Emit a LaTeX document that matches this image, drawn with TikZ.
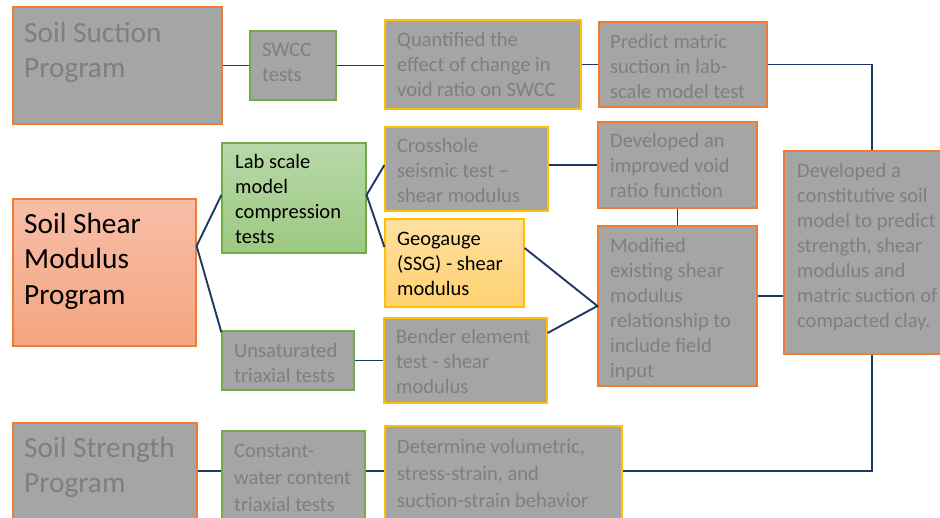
\documentclass[tikz,border=0pt]{standalone}
\usepackage{fontspec}
\setmainfont{Carlito}
\usetikzlibrary{fit}
\definecolor{boxgray}{HTML}{A5A5A5}
\definecolor{txtgray}{HTML}{7F7F7F}
\definecolor{bdorange}{HTML}{ED7D31}
\definecolor{bdyellow}{HTML}{FFC000}
\definecolor{bdgreen}{HTML}{70AD47}
\definecolor{navy}{HTML}{1F3864}
\definecolor{grtop}{HTML}{B7D8A8}
\definecolor{grbot}{HTML}{9DC982}
\definecolor{ortop}{HTML}{F7BEA8}
\definecolor{orbot}{HTML}{F4A580}
\definecolor{yetop}{HTML}{FFE0A0}
\definecolor{yebot}{HTML}{FFD170}
\tikzset{
  boxbase/.style={inner sep=0pt, line width=1.2pt},
  graybox/.style={boxbase, fill=boxgray},
  ob/.style={draw=bdorange},
  yb/.style={draw=bdyellow},
  gb/.style={draw=bdgreen},
  smalltxt/.style={inner sep=0pt, anchor=north west, align=left, text=txtgray,
    font=\fontsize{20.5}{25}\selectfont},
  lowtxt/.style={inner sep=0pt, anchor=north west, align=left, text=txtgray,
    font=\fontsize{20.5}{27.3}\selectfont},
  bigtxt/.style={inner sep=0pt, anchor=north west, align=left, text=txtgray,
    font=\fontsize{29.3}{35.5}\selectfont},
  conn/.style={draw=navy, line width=1.9pt}
}
\begin{document}
\begin{tikzpicture}[x=1pt, y=-1pt]
\useasboundingbox (0,0) rectangle (940,518);
\clip (0,0) rectangle (940,518);
% boxes
\node[graybox, ob, fit={(13,7) (222,124)}] (suction) {};
\node[graybox, gb, fit={(250,31) (336,100)}] (swcc) {};
\node[graybox, yb, fit={(385,20) (581,109)}] (quant) {};
\node[graybox, ob, fit={(599,22) (767,107)}] (predict) {};
\node[boxbase, gb, top color=grtop, bottom color=grbot, fit={(222,143) (366,253)}] (lab) {};
\node[graybox, yb, fit={(385,127) (548,211)}] (cross) {};
\node[boxbase, yb, top color=yetop, bottom color=yebot, fit={(385,219) (524,307)}] (geo) {};
\node[graybox, gb, fit={(222,331) (354,390)}] (unsat) {};
\node[graybox, yb, fit={(384,318) (547,403)}] (bender) {};
\node[graybox, ob, fit={(598,122) (757,208)}] (devel) {};
\node[graybox, ob, fit={(598,226) (757,386)}] (modif) {};
\node[graybox, ob, fit={(784,151) (960,354)}] (const) {};
\node[boxbase, ob, top color=ortop, bottom color=orbot, fit={(13,199) (196,346)}] (shear) {};
\node[graybox, ob, fit={(13,423) (197,540)}] (strength) {};
\node[graybox, gb, fit={(222,431) (365,540)}] (constant) {};
\node[graybox, yb, fit={(385,426) (622,540)}] (determine) {};
% texts
\node[bigtxt] (t-suction) at (24,{42-24.85}) {\strut Soil Suction\\Program};
\node[smalltxt] (t-swcc) at (262,{56-17.5}) {\strut SWCC\\tests};
\node[smalltxt] (t-quant) at (397,{46-17.5}) {\strut Quantified the\\effect of change in\\void ratio on SWCC};
\node[smalltxt] (t-predict) at (610,{48-17.5}) {\strut Predict matric\\suction in lab-\\scale model test};
\node[smalltxt, text=black] (t-lab) at (235,{168-17.5}) {\strut Lab scale\\model\\compression\\tests};
\node[smalltxt] (t-cross) at (397,{152-17.5}) {\strut Crosshole\\seismic test --\\shear modulus};
\node[smalltxt, text=black] (t-geo) at (397,{245-17.5}) {\strut Geogauge\\(SSG) - shear\\modulus};
\node[smalltxt] (t-unsat) at (234,{357-17.5}) {\strut Unsaturated\\triaxial tests};
\node[smalltxt] (t-bender) at (396,{343-17.5}) {\strut Bender element\\test - shear\\modulus};
\node[smalltxt] (t-devel) at (610,{147-17.5}) {\strut Developed an\\improved void\\ratio function};
\node[smalltxt] (t-modif) at (610,{252-17.5}) {\strut Modified\\existing shear\\modulus\\relationship to\\include field\\input};
\node[smalltxt] (t-const) at (797,{177-17.5}) {\strut Developed a\\constitutive soil\\model to predict\\strength, shear\\modulus and\\matric suction of\\compacted clay.};
\node[bigtxt, text=black] (t-shear) at (24,{233-24.85}) {\strut Soil Shear\\Modulus\\Program};
\node[bigtxt] (t-strength) at (24,{457-24.85}) {\strut Soil Strength\\Program};
\node[lowtxt] (t-constant) at (234,{457-19.1}) {\strut Constant-\\water content\\triaxial tests};
\node[lowtxt] (t-determine) at (397,{453-19.1}) {\strut Determine volumetric,\\stress-strain, and\\suction-strain behavior};
% connectors
\coordinate (ybot) at (0,471);
\draw[conn] (suction.east) -- (swcc.west);
\draw[conn] (swcc.east) -- (quant.west |- swcc.east);
\draw[conn] (quant.east) -- (predict.west);
\draw[conn] (predict.east) -| (const.north);
\draw[conn] (const.south) |- (determine.east |- ybot);
\draw[conn] (strength.east |- ybot) -- (constant.west |- ybot);
\draw[conn] (constant.east |- ybot) -- (determine.west |- ybot);
\draw[conn] ([yshift=3pt]lab.west) -- ([yshift=26.5pt]shear.east) -- ([yshift=-2pt]unsat.north west);
\draw[conn] ([yshift=4pt]cross.west) -- ([yshift=3pt]lab.east) -- ([yshift=16pt]geo.west);
\draw[conn] ([yshift=4pt]cross.east) -- (devel.west);
\draw[conn] (devel.south) -- (modif.north);
\draw[conn] ([yshift=15pt]geo.east) -- (modif.west) -- ([yshift=27.5pt]bender.east);
\draw[conn] (unsat.east) -- (bender.west |- unsat.east);
\coordinate (m1) at ([yshift=10pt]modif.east);
\draw[conn] (m1) -- (m1 -| const.west);
\end{tikzpicture}
\end{document}
